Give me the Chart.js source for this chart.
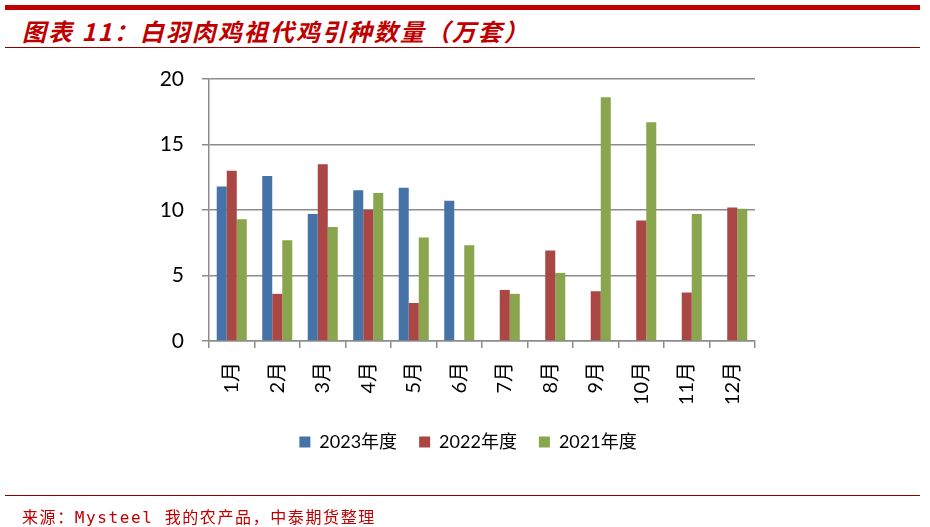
<!DOCTYPE html>
<html><head><meta charset="utf-8">
<script src="https://cdn.jsdelivr.net/npm/chart.js@4.4.0/dist/chart.umd.min.js"></script>
<style>
html,body{margin:0;padding:0;background:#fff;}
#wrap{position:relative;width:930px;height:527px;overflow:hidden;}
#topbar{position:absolute;left:5px;top:5px;width:915px;height:5px;background:#C00000;}
#title{position:absolute;left:22px;top:13px;font-family:"Noto Sans CJK SC",sans-serif;font-weight:bold;font-style:italic;font-size:24px;letter-spacing:2px;color:#C00000;white-space:nowrap;}
#line1{position:absolute;left:5px;top:47px;width:915px;height:1px;background:#8B0000;}
#line2{position:absolute;left:5px;top:495px;width:915px;height:1px;background:#8B0000;}
#src{position:absolute;left:22px;top:504px;font-family:"DejaVu Sans Mono","Noto Sans CJK SC",monospace;font-size:16px;color:#C00000;white-space:nowrap;letter-spacing:1.6px;}
#c{position:absolute;left:0;top:0;}
</style></head>
<body><div id="wrap">
<div id="topbar"></div>
<div id="title">图表 11：白羽肉鸡祖代鸡引种数量（万套）</div>
<div id="line1"></div>
<canvas id="c" width="930" height="527"></canvas>
<div id="line2"></div>
<div id="src">来源：Mysteel 我的农产品，中泰期货整理</div>
</div>
<script>
const categories = ["1月","2月","3月","4月","5月","6月","7月","8月","9月","10月","11月","12月"];
const seriesNames = ["2023年度","2022年度","2021年度"];
const v2023 = [11.8,12.6,9.7,11.5,11.7,10.7,null,null,null,null,null,null];
const v2022 = [13.0,3.6,13.5,10.0,2.9,null,3.9,6.9,3.8,9.2,3.7,10.2];
const v2021 = [9.3,7.7,8.7,11.3,7.9,7.3,3.6,5.2,18.6,16.7,9.7,10.1];
const yTicks = [0,5,10,15,20];
const colors = ["#4572A7","#AA4643","#89A54E"];

const fontLatin = "Lato, 'Noto Sans CJK SC', sans-serif";
const ds = [v2023,v2022,v2021].map((d,i)=>({
  label: seriesNames[i], data: d, backgroundColor: colors[i],
  borderWidth: 0,
  categoryPercentage: 0.66, barPercentage: 1.0
}));
const legendShift = {
  id: 'legendShift',
  afterLayout(chart) {
    if (chart.legend) { chart.legend.left += 16; chart.legend.right += 16; }
  }
};
new Chart(document.getElementById('c'), {
  type: 'bar',
  data: { labels: categories, datasets: ds },
  plugins: [legendShift],
  options: {
    responsive: false, animation: false,
    layout: { padding: { left: 149, right: 175, top: 79, bottom: 66 } },
    plugins: {
      legend: { position: 'bottom', labels: { font: { family: fontLatin, size: 18 }, color: '#000', boxWidth: 11, boxHeight: 11, padding: 22 } },
      tooltip: { enabled: false }
    },
    scales: {
      x: {
        grid: { drawOnChartArea: false, drawTicks: true, tickLength: 7, color: '#8c8c8c', lineWidth: 1.5, offset: true },
        border: { color: '#8c8c8c', width: 1.5 },
        ticks: { font: { family: fontLatin, size: 20 }, color: '#000', maxRotation: 90, minRotation: 90, padding: 14 },
        afterFit: s => { s.height = 70; }
      },
      y: {
        min: 0, max: 20,
        afterBuildTicks: s => { s.ticks = yTicks.map(v => ({ value: v })); },
        grid: { color: '#8c8c8c', lineWidth: 1.5, tickLength: 7 },
        border: { color: '#8c8c8c', width: 1.5 },
        ticks: { font: { family: fontLatin, size: 21 }, color: '#000', padding: 18 },
        afterFit: s => { s.width = 60; }
      }
    }
  }
});
</script>
</body></html>
